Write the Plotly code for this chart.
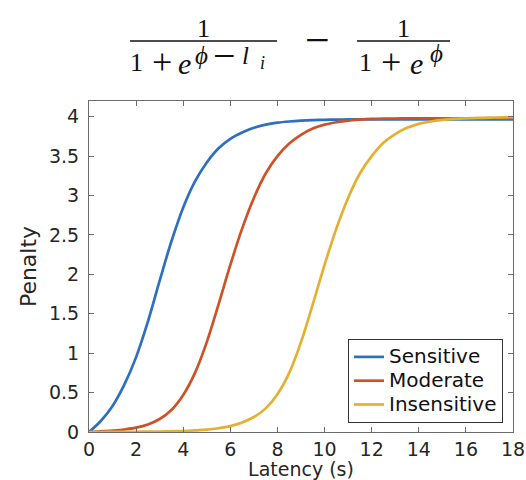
import plotly.graph_objects as go

# ---- data ----
LATENCY = [0, 0.5, 1, 1.5, 2, 2.5, 3, 3.5, 4, 4.5, 5, 5.5, 6, 6.5, 7, 7.5, 8, 8.5,
           9, 9.5, 10, 10.5, 11, 11.5, 12, 12.5, 13, 13.5, 14, 14.5, 15, 15.5,
           16, 16.5, 17, 17.5, 18]

SENSITIVE = [0, 0.14, 0.33, 0.60, 0.95, 1.40, 1.92, 2.42, 2.85, 3.18, 3.42, 3.60,
             3.72, 3.80, 3.86, 3.90, 3.925, 3.94, 3.95, 3.957, 3.961, 3.964, 3.966,
             3.967, 3.967, 3.967, 3.967, 3.967, 3.967, 3.967, 3.967, 3.967, 3.967,
             3.967, 3.967, 3.967, 3.967]

MODERATE = [0, 0.008, 0.018, 0.032, 0.055, 0.095, 0.165, 0.28, 0.47, 0.75, 1.14,
            1.62, 2.12, 2.58, 2.97, 3.28, 3.50, 3.66, 3.77, 3.85, 3.90, 3.93, 3.952,
            3.964, 3.972, 3.976, 3.978, 3.98, 3.98, 3.98, 3.98, 3.98, 3.98, 3.98,
            3.98, 3.98, 3.98]

INSENSITIVE = [0, 0, 0.001, 0.002, 0.003, 0.004, 0.006, 0.009, 0.013, 0.02, 0.03,
               0.048, 0.075, 0.12, 0.19, 0.30, 0.48, 0.75, 1.14, 1.62, 2.12, 2.58,
               2.97, 3.28, 3.50, 3.67, 3.78, 3.86, 3.91, 3.94, 3.96, 3.972, 3.98,
               3.985, 3.989, 3.992, 3.995]

SERIES_NAMES = ["Sensitive", "Moderate", "Insensitive"]
SERIES_VALUES = [SENSITIVE, MODERATE, INSENSITIVE]
COLORS = ["#2F6FBF", "#CD5225", "#E3B032"]

X_TICKS = [0, 2, 4, 6, 8, 10, 12, 14, 16, 18]
Y_TICKS = [0, 0.5, 1, 1.5, 2, 2.5, 3, 3.5, 4]
Y_TICK_LABELS = ["0", "0.5", "1", "1.5", "2", "2.5", "3", "3.5", "4"]

W, H = 526, 480
ML, MR, MT, MB = 89, 13, 101, 48
PW, PH = W - ML - MR, H - MT - MB

def px(x):
    return (x - ML) / PW

def py(y):
    return (H - MB - y) / PH

fig = go.Figure()
for name, vals, col in zip(SERIES_NAMES, SERIES_VALUES, COLORS):
    fig.add_trace(go.Scatter(
        x=LATENCY, y=vals, mode="lines",
        name='<span style="font-size:20px">%s</span>' % name,
        line=dict(color=col, width=2.7, shape="spline", smoothing=1.0)))

axis_common = dict(showgrid=False, zeroline=False, showline=True, linecolor="#6b6b6b",
                   linewidth=1, mirror="ticks", ticks="inside", ticklen=5,
                   tickcolor="#6b6b6b", automargin=False,
                   tickfont=dict(family="DejaVu Sans", size=19, color="#262626"))

fig.update_xaxes(range=[0, 18], tickvals=X_TICKS, ticklabelstandoff=0,
                 title=dict(text="Latency (s)", standoff=1,
                            font=dict(family="DejaVu Sans", size=19, color="#262626")),
                 **axis_common)
fig.update_yaxes(range=[0, 4.2], tickvals=Y_TICKS, ticktext=Y_TICK_LABELS,
                 ticklabelstandoff=5,
                 title=dict(text="Penalty", standoff=6,
                            font=dict(family="DejaVu Sans", size=22, color="#262626")),
                 **axis_common)

# ---- formula title built from text pieces ----
SERIF = "Liberation Serif"
pieces = [
    ("1", 203.5, 28.5, 26, False),
    ("1", 136.5, 62.5, 26, False),
    ("+", 161.5, 62, 36, False),
    ("e", 184.5, 64, 30, True),
    ("ϕ", 201, 55, 25, True),
    ("−", 224.5, 55.5, 40, False),
    ("l", 245, 55.5, 25, True),
    ("i", 262.5, 62.5, 18, True),
    ("−", 317.5, 40.5, 44, False),
    ("1", 403.5, 28.5, 26, False),
    ("1", 365, 62.5, 26, False),
    ("+", 391, 62, 36, False),
    ("e", 416.5, 64, 30, True),
    ("ϕ", 436.5, 54, 25, True),
]
for txt, x, y, size, ital in pieces:
    fig.add_annotation(text=("<i>%s</i>" % txt) if ital else txt,
                       xref="paper", yref="paper", x=px(x), y=py(y),
                       xanchor="center", yanchor="middle", showarrow=False,
                       font=dict(family=SERIF, size=size, color="#111111"))

for x0, x1 in [(130, 277), (357, 450)]:
    fig.add_shape(type="line", xref="paper", yref="paper",
                  x0=px(x0), x1=px(x1), y0=py(41), y1=py(41),
                  line=dict(color="#111111", width=1.4))

fig.update_layout(
    width=W, height=H,
    margin=dict(l=ML, r=MR, t=MT, b=MB, autoexpand=False),
    paper_bgcolor="white", plot_bgcolor="white",
    font=dict(family="DejaVu Sans", color="#262626"),
    legend=dict(x=px(503), y=py(423), xanchor="right", yanchor="bottom",
                bgcolor="white", bordercolor="#333333", borderwidth=1,
                font=dict(family="DejaVu Sans", size=16, color="#111111"),
                itemwidth=30, tracegroupgap=0),
    showlegend=True,
)

fig.write_html("out.html",
               config={"displayModeBar": False},
               post_script="document.body.style.margin='0';"
                           "document.body.style.overflow='hidden';")
